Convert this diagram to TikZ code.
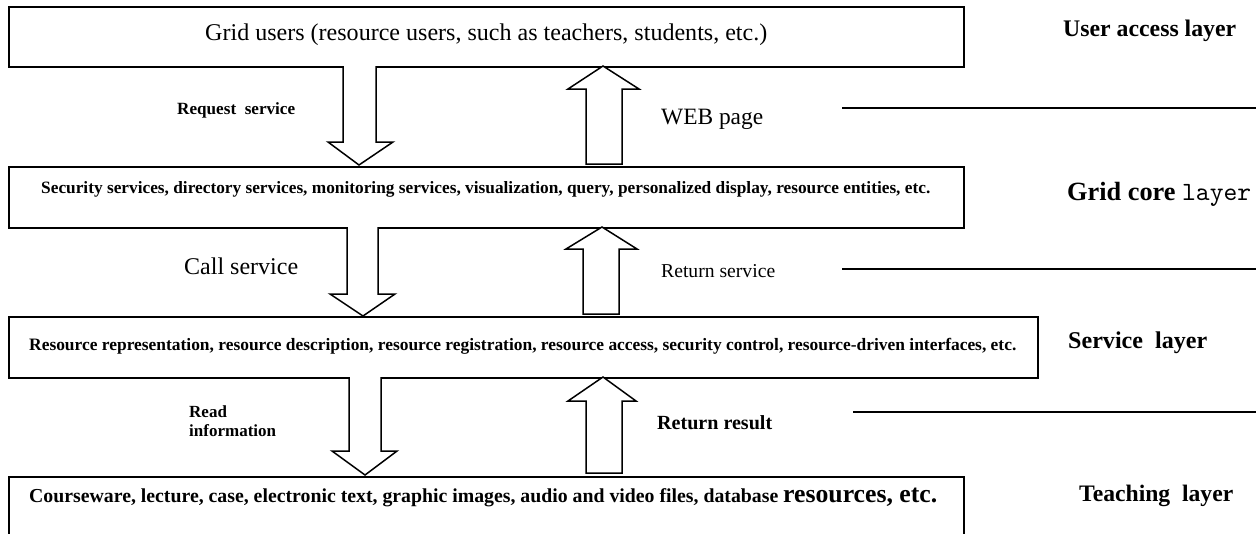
\documentclass[tikz,border=0pt]{standalone}
\usepackage{fontspec}
\usepackage{graphicx}
\setmainfont{Liberation Serif}
\begin{document}
\begin{tikzpicture}[x=1pt,y=-1pt,
  box/.style={draw, line width=1.6pt, rectangle, inner sep=0pt, anchor=north west},
  lbl/.style={anchor=base west, inner sep=0pt},
  barrow/.style={draw, line width=1.5pt, fill=white, line join=miter},
  seprule/.style={draw, line width=1.4pt}]
\useasboundingbox (0,0) rectangle (1256,533);
\fill[white] (0,0) rectangle (1256,533);

% layer boxes
\node[box, minimum width=955pt, minimum height=60pt] (b1) at (8,6) {};
\node[box, minimum width=955pt, minimum height=61pt] (b2) at (8,166) {};
\node[box, minimum width=1029pt, minimum height=61pt] (b3) at (8,316) {};
\node[box, minimum width=955pt, minimum height=80pt] (b4) at (8,476) {};

% box texts
\node[lbl] (t1) at (205,40) {\resizebox{562pt}{!}{Grid users (resource users, such as teachers, students, etc.)}};
\node[lbl] (t2) at (41,193) {\resizebox{889pt}{!}{\bfseries Security services, directory services, monitoring services, visualization, query, personalized display, resource entities, etc.}};
\node[lbl] (t3) at (29,350) {\resizebox{987pt}{!}{\bfseries Resource representation, resource description, resource registration, resource access, security control, resource-driven interfaces, etc.}};
\node[lbl] (t4) at (29,502) {\resizebox{908pt}{!}{\bfseries Courseware, lecture, case, electronic text, graphic images, audio and video files, database {\fontsize{13}{15}\selectfont resources, etc.}}};

% block arrows
\draw[barrow] (343,66) -- (343,142) -- (328,142) -- (359,165) -- (393,142) -- (376,142) -- (376,66);
\draw[barrow] (586,164) -- (586,89) -- (568,89) -- (603,66) -- (639,89) -- (622,89) -- (622,164) -- cycle;
\draw[barrow] (347,227) -- (347,294) -- (330,294) -- (363,316) -- (395,294) -- (378,294) -- (378,227);
\draw[barrow] (583,314) -- (583,249) -- (566,249) -- (602,227) -- (637,249) -- (619,249) -- (619,314) -- cycle;
\draw[barrow] (349,377) -- (349,451) -- (332,451) -- (365,475) -- (397,451) -- (381,451) -- (381,377);
\draw[barrow] (586,473) -- (586,401) -- (568,401) -- (603,377) -- (636,401) -- (622,401) -- (622,473) -- cycle;

% arrow labels
\node[lbl] (req) at (177,114) {\resizebox{118pt}{!}{\bfseries Request\hspace{0.25em} service}};
\node[lbl] (web) at (661,124) {\resizebox{102pt}{!}{WEB page}};
\node[lbl] (call) at (184,274) {\resizebox{114pt}{!}{Call service}};
\node[lbl] (rets) at (661,277) {\resizebox{114pt}{!}{Return service}};
\node[lbl, align=left, font=\bfseries\fontsize{17}{19}\selectfont] (read) at (189,436) {Read\\information};
\node[lbl] (retr) at (657,429) {\resizebox{115pt}{!}{\bfseries Return result}};

% layer names
\node[lbl] (l1) at (1063,36) {\resizebox{173pt}{!}{\bfseries User access layer}};
\node[lbl] (l2) at (1067,200) {\resizebox{184pt}{!}{{\bfseries Grid core} {\ttfamily layer}}};
\node[lbl] (l3) at (1068,348) {\resizebox{139pt}{!}{\bfseries Service\hspace{0.25em} layer}};
\node[lbl] (l4) at (1079,501) {\resizebox{154pt}{!}{\bfseries Teaching\hspace{0.25em} layer}};

% separator rules
\draw[seprule] (842,108) -- (1256,108);
\draw[seprule] (842,269) -- (1256,269);
\draw[seprule] (853,412) -- (1256,412);
\end{tikzpicture}
\end{document}
